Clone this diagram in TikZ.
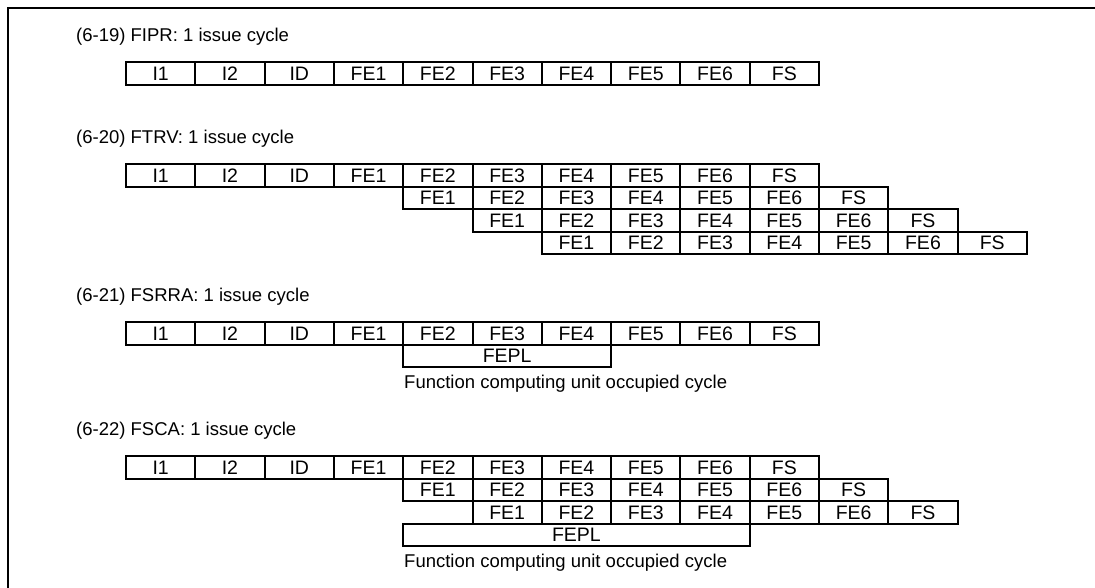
\documentclass[tikz,border=0pt]{standalone}
\usepackage{fontspec}
\setmainfont{Liberation Sans}
\usetikzlibrary{positioning}

\begin{document}
\begin{tikzpicture}[x=1pt,y=-1pt,
    cell/.style={draw, line width=2pt, outer sep=0pt, inner sep=0pt,
        minimum width=69.3pt, minimum height=22.5pt, anchor=north west,
        text height=13.8pt, text depth=0pt, font=\fontsize{19.5}{21}\selectfont},
    caption/.style={anchor=base west, inner sep=0pt, font=\fontsize{18.5}{20}\selectfont}]
    \useasboundingbox (0,0) rectangle (1095,587);

    % Frame
    \draw[line width=2.6pt] (8,600) -- (8,8) -- (1110,8);

    % (6-19) FIPR
    \node[caption] (t1) at (76,41) {(6-19) FIPR: 1 issue cycle};
    \foreach \lab [count=\i from 0] in {I1,I2,ID,FE1,FE2,FE3,FE4,FE5,FE6,FS}
        \node[cell] (a\i) at (126+\i*69.3,62) {\lab};

    % (6-20) FTRV
    \node[caption] (t2) at (76,143) {(6-20) FTRV: 1 issue cycle};
    \foreach \lab [count=\i from 0] in {I1,I2,ID,FE1,FE2,FE3,FE4,FE5,FE6,FS}
        \node[cell] (b0-\i) at (126+\i*69.3,164) {\lab};
    \foreach \r/\c in {1/4,2/5,3/6}
        \foreach \lab [count=\i from 0] in {FE1,FE2,FE3,FE4,FE5,FE6,FS}
            \node[cell] (b\r-\i) at (126+\c*69.3+\i*69.3,164+\r*22.5) {\lab};

    % (6-21) FSRRA
    \node[caption] (t3) at (76,301) {(6-21) FSRRA: 1 issue cycle};
    \foreach \lab [count=\i from 0] in {I1,I2,ID,FE1,FE2,FE3,FE4,FE5,FE6,FS}
        \node[cell] (c\i) at (126+\i*69.3,322) {\lab};
    \node[cell, minimum width=207.9pt] (c-pl) at (126+4*69.3,344.5) {FEPL};
    \node[caption] (c-note) at (404,388) {Function computing unit occupied cycle};

    % (6-22) FSCA
    \node[caption] (t4) at (76,435) {(6-22) FSCA: 1 issue cycle};
    \foreach \lab [count=\i from 0] in {I1,I2,ID,FE1,FE2,FE3,FE4,FE5,FE6,FS}
        \node[cell] (d0-\i) at (126+\i*69.3,456) {\lab};
    \foreach \r/\c in {1/4,2/5}
        \foreach \lab [count=\i from 0] in {FE1,FE2,FE3,FE4,FE5,FE6,FS}
            \node[cell] (d\r-\i) at (126+\c*69.3+\i*69.3,456+\r*22.5) {\lab};
    \node[cell, minimum width=346.5pt] (d-pl) at (126+4*69.3,523.5) {FEPL};
    \node[caption] (d-note) at (404,567) {Function computing unit occupied cycle};
\end{tikzpicture}
\end{document}
